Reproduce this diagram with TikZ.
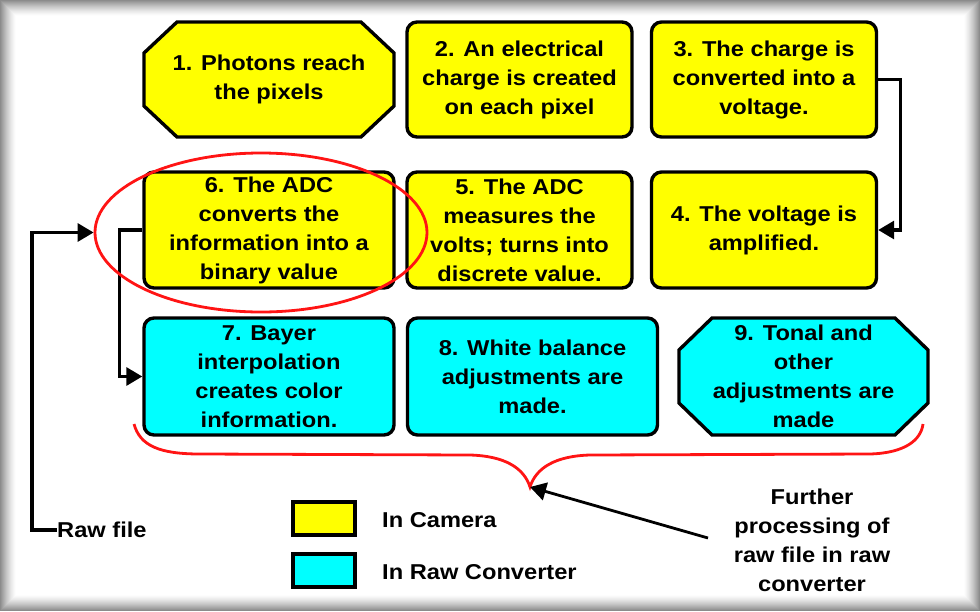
\documentclass[tikz,border=0pt]{standalone}
\usepackage{fontspec}
\newfontfamily\lab{Liberation Sans}[FakeStretch=1.1]
\usetikzlibrary{arrows.meta,shapes.geometric}
\definecolor{yel}{RGB}{255,255,0}
\definecolor{cyn}{RGB}{0,255,255}
\definecolor{redc}{RGB}{255,20,20}
\tikzset{
  txt/.style={align=center, inner sep=0pt,
    font={\lab\bfseries\fontsize{21.5}{29}\selectfont}},
  box/.style={txt, draw=black, line width=3.4pt},
  rbox/.style={box, rounded corners=10pt},
  oshape/.style={draw=black, line width=3.4pt},
  wA/.style={minimum width=250pt},
  wB/.style={minimum width=225pt},
  arr/.style={-{Triangle[length=16pt,width=18pt]}, line width=3.2pt},
  redl/.style={draw=redc, line width=2.8pt},
  legbox/.style={draw=black, line width=3.4pt, minimum width=62pt, minimum height=33pt, inner sep=0pt}
}
% octagon: centre x, centre y, half width, half height, chamfer x, chamfer y, colour
\newcommand\octo[7]{%
  \filldraw[oshape, fill=#7] (#1-#3+#5,#2-#4) -- (#1+#3-#5,#2-#4) -- (#1+#3,#2-#4+#6)
    -- (#1+#3,#2+#4-#6) -- (#1+#3-#5,#2+#4) -- (#1-#3+#5,#2+#4) -- (#1-#3,#2+#4-#6)
    -- (#1-#3,#2-#4+#6) -- cycle;}
\begin{document}
\begin{tikzpicture}[x=1pt,y=-1pt]
\useasboundingbox (0,0) rectangle (980,611);
% frame
\foreach \i in {0,...,15} {
  \pgfmathsetmacro\c{45*(1-\i/16)^1.4}
  \fill[black!\c] (\i,\i) rectangle (980-\i,611-\i);
}
\fill[white] (16,16) rectangle (964,595);
% row 1
\octo{269}{79.5}{125}{57.5}{33}{31}{yel}
\node[txt, wA, minimum height=115pt] (b1) at (269,79.5) {1. Photons reach\\the pixels};
\node[rbox, fill=yel, wB, minimum height=115pt] (b2) at (519.5,79.5) {2. An electrical\\charge is created\\on each pixel};
\node[rbox, fill=yel, wB, minimum height=115pt] (b3) at (764,79.5) {3. The charge is\\converted into a\\voltage.};
% row 2
\node[rbox, fill=yel, wA, minimum height=116pt] (b6) at (269,230) {6. The ADC\\converts the\\information into a\\binary value};
\node[rbox, fill=yel, wB, minimum height=116pt] (b5) at (519.5,230) {5. The ADC\\measures the\\volts; turns into\\discrete value.};
\node[rbox, fill=yel, wB, minimum height=116pt] (b4) at (764,230) {4. The voltage is\\amplified.};
% row 3
\node[rbox, fill=cyn, wA, minimum height=117pt] (b7) at (269,376.5) {7. Bayer\\interpolation\\creates color\\information.};
\node[rbox, fill=cyn, wA, minimum height=117pt] (b8) at (532.5,376.5) {8. White balance\\adjustments are\\made.};
\octo{803.5}{376.5}{124.5}{58.5}{33}{32}{cyn}
\node[txt, wA, minimum height=117pt] (b9) at (803.5,376.5) {9. Tonal and\\other\\adjustments are\\made};
% connectors
\draw[arr] (b3.east) -- ++(22,0) |- (b4.east);
\draw[arr] (b6.west) -- ++(-23,0) |- (b7.west);
% red ellipse
\node[redl, ellipse, minimum width=332pt, minimum height=159pt, inner sep=0pt] (ell) at (261,232.5) {};
% raw file
\node[txt, anchor=west] (raw) at (57,530) {Raw file};
\coordinate (rc) at (32,530);
\draw[arr] (raw.west) -- (rc) |- (ell.west);
% brace
\coordinate (cusp) at (530,487);
\draw[redl] (134,424) .. controls (140,446) and (160,454) .. (200,454) -- (470,455)
  .. controls (505,456) and (524,468) .. (cusp)
  .. controls (536,468) and (555,456) .. (590,455) -- (870,454)
  .. controls (905,453) and (921,440) .. (923,424);
% legend
\node[legbox, fill=yel] (ly) at (324,518.5) {};
\node[legbox, fill=cyn] (lc) at (324,570.5) {};
\node[txt, anchor=west] (ty) at (382,520) {In Camera};
\node[txt, anchor=west] (tc) at (382,572) {In Raw Converter};
% further
\node[txt] (fur) at (812,540) {Further\\processing of\\raw file in raw\\converter};
\coordinate (fs) at (708,538);
\draw[arr, line width=2.8pt] (fs) -- (cusp);
\end{tikzpicture}
\end{document}
